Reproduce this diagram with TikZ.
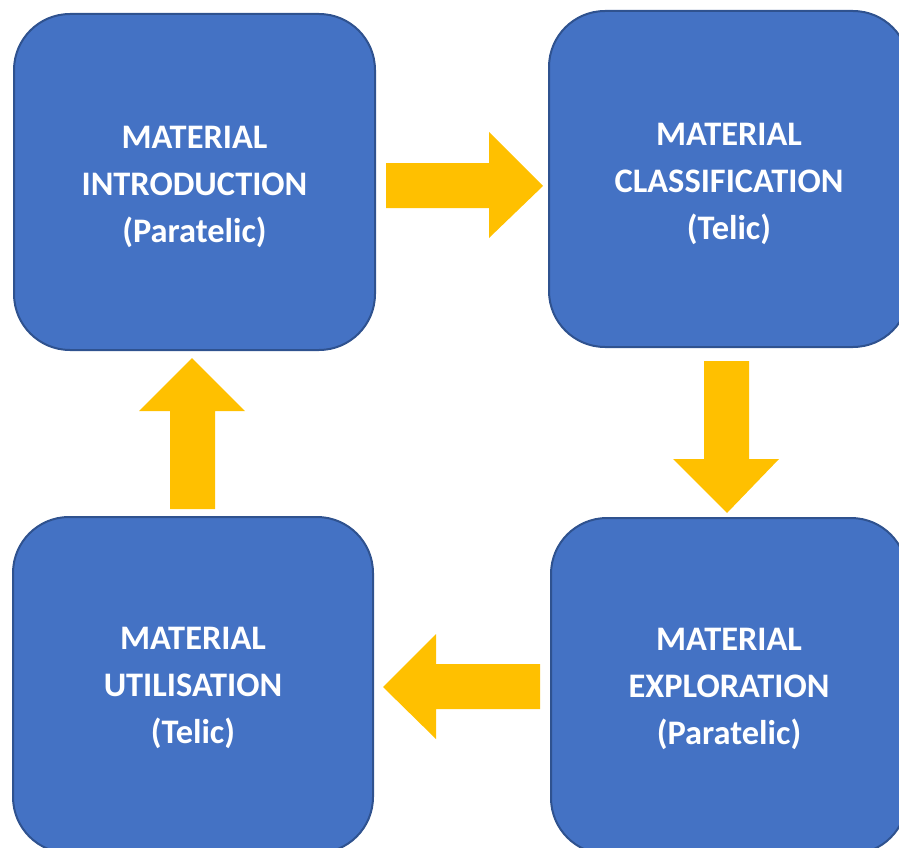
\documentclass[tikz,border=0pt]{standalone}
\usepackage{fontspec}
\setmainfont{Carlito}
\definecolor{boxblue}{HTML}{4472C4}
\definecolor{boxedge}{HTML}{2F528F}
\definecolor{arrowgold}{HTML}{FFC000}
\begin{document}
\begin{tikzpicture}[x=1pt,y=-1pt,
  stagebox/.style={rectangle, rounded corners=56pt, fill=boxblue, draw=boxedge,
    line width=2pt, minimum width=360pt, minimum height=336pt, inner sep=0pt},
  stagetext/.style={text=white, align=center, inner sep=0pt,
    font=\fontsize{34.4}{47}\selectfont\bfseries},
  blockarrow/.style={fill=arrowgold, draw=none}]
\useasboundingbox (0,0) rectangle (899,848);

% the four stages of the cycle
\node[stagebox, minimum width=361pt] (intro) at (194.5,182) {};
\node[stagebox] (classif) at (729,179) {};
\node[stagebox, minimum width=356pt] (explore) at (729,686) {};
\node[stagebox] (util) at (193,685) {};

% stage captions
\node[stagetext] (introtext) at ([yshift=-5pt]intro.center) {MATERIAL\\INTRODUCTION\\(Paratelic)};
\node[stagetext] (classiftext) at ([yshift=-5pt]classif.center) {MATERIAL\\CLASSIFICATION\\(Telic)};
\node[stagetext] (exploretext) at ([yshift=-3pt]explore.center) {MATERIAL\\EXPLORATION\\(Paratelic)};
\node[stagetext] (utiltext) at ([yshift=-3pt]util.center) {MATERIAL\\UTILISATION\\(Telic)};

% block arrows between the stages
\fill[blockarrow] (386,163) -- (489,163) -- (489,132) -- (543,186)
  -- (489,238) -- (489,208) -- (386,208) -- cycle;
\fill[blockarrow] (704,361) -- (749,361) -- (749,459) -- (779,459)
  -- (727,513) -- (673,459) -- (704,459) -- cycle;
\fill[blockarrow] (540,664) -- (540,709) -- (436,709) -- (436,739)
  -- (383,687) -- (436,634) -- (436,664) -- cycle;
\fill[blockarrow] (170,509) -- (170,411) -- (139,411) -- (192,358)
  -- (245,411) -- (215,411) -- (215,509) -- cycle;
\end{tikzpicture}
\end{document}
